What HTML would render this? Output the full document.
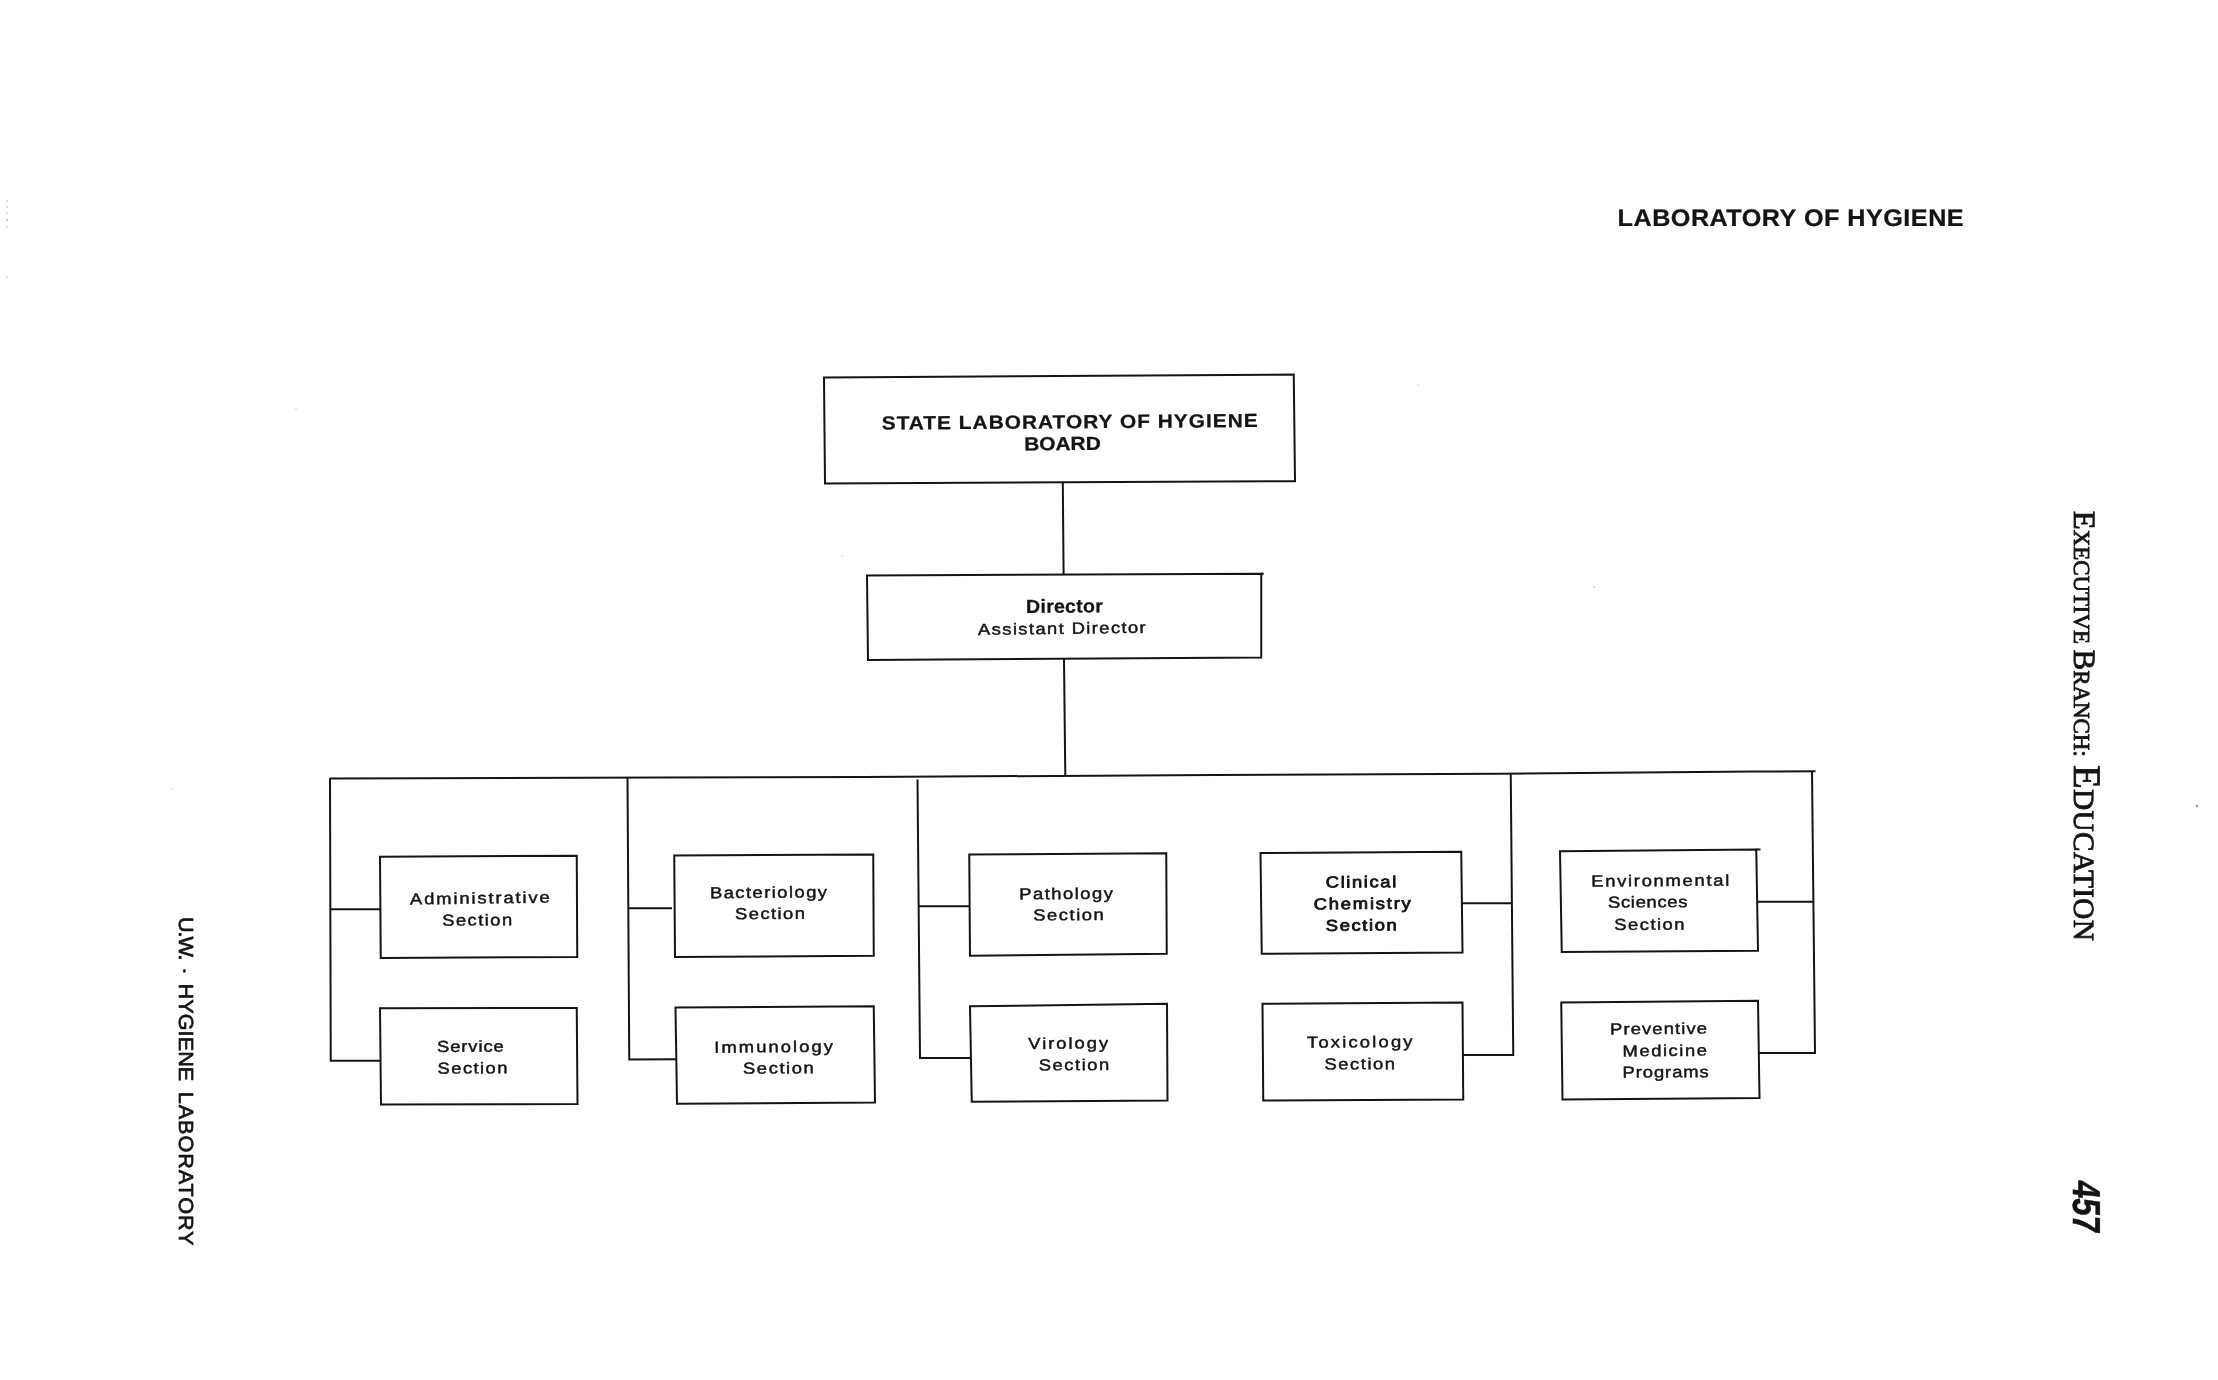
<!DOCTYPE html>
<html lang="en">
<head>
<meta charset="utf-8">
<title>State Laboratory of Hygiene – Organization Chart</title>
<style>
  html, body { margin: 0; padding: 0; background: #ffffff; }
  body { width: 2218px; height: 1380px; overflow: hidden; }
  svg { display: block; filter: grayscale(1); }
  .sans { font-family: "Liberation Sans", Arial, Helvetica, sans-serif; fill: #141414; }
  .serif { font-family: "Liberation Serif", "Times New Roman", Times, serif; fill: #141414; }
  .r { font-weight: 400; stroke: #141414; stroke-width: 0.45px; stroke-linejoin: round; }
  .h { stroke-width: 0.8px; }
  .b { font-weight: 700; stroke: #141414; stroke-width: 0.25px; stroke-linejoin: round; }
  .ln { fill: none; stroke: #141414; stroke-width: 2.0; stroke-linecap: butt; stroke-linejoin: miter; }
</style>
</head>
<body>
<svg width="2218" height="1380" viewBox="0 0 2218 1380" text-rendering="geometricPrecision">
<rect x="0" y="0" width="2218" height="1380" fill="#ffffff"/>

<g class="ln">
  <polygon points="824,377.5 1293.75,374.5 1295,481.25 825,483.5"/>
  <polygon points="867,575.5 1261.25,573.75 1261.25,657.5 868,660"/>
  <polygon points="380,856.75 576.75,855.75 577.25,957 380.75,958"/>
  <polygon points="380,1008.25 576.75,1008 577.5,1104 381,1104.5"/>
  <polygon points="674.25,855.5 873.25,854.5 873.75,955.75 675,957"/>
  <polygon points="675.5,1007.5 873.75,1006.25 875,1102.5 677,1103.75"/>
  <polygon points="969.25,854.5 1166.25,853.25 1166.75,953.75 970,955.75"/>
  <polygon points="970,1006.25 1167,1003.75 1167.5,1100.5 971.75,1101.75"/>
  <polygon points="1260.5,853 1461.25,851.75 1462.5,952.5 1261.75,953.75"/>
  <polygon points="1262.5,1003.75 1462.5,1002.5 1463.25,1099.5 1263.25,1100.5"/>
  <polygon points="1560,851.25 1756.25,849.5 1758,950.75 1561.75,952"/>
  <polygon points="1561.25,1002.5 1758,1000.75 1759.5,1098 1562.5,1099.5"/>
  <polyline points="1062.8,483 1063.6,574.5"/>
  <polyline points="1064,659 1065.3,775.5"/>
  <polyline points="329.5,778.5 660,777.5 864,777 1214,775 1500,773.75 1754,771.5 1815.5,771.25"/>
  <polyline points="330,778.5 330.75,1060.75 380.5,1060.75"/>
  <polyline points="330.3,909.25 380.3,909.25"/>
  <polyline points="627.5,777.5 629.25,1059.4 675.8,1059.25"/>
  <polyline points="628.4,908.25 672,908.25"/>
  <polyline points="917.5,779.5 920,1058.1 970.5,1058"/>
  <polyline points="918.6,906.25 969.6,906.25"/>
  <polyline points="1510.75,774 1513.25,1055.1 1463,1055"/>
  <polyline points="1462,903.25 1511.8,903.25"/>
  <polyline points="1812,771.25 1815,1053 1759,1053"/>
  <polyline points="1757,901.75 1813.4,901.75"/>
  <polyline points="1261,573.75 1263.75,573.7"/>
  <polyline points="1756,849.5 1760.5,849.4"/>
</g>
<g class="sans">
  <text class="b" x="-0.00" y="0" font-size="19" letter-spacing="0.899" transform="translate(881.70 429.60) rotate(-0.396) scale(1.1 1)">STATE LABORATORY OF HYGIENE</text>
  <text class="b" x="-0.00" y="0" font-size="19" letter-spacing="-0.009" transform="translate(1024.20 450.40) rotate(-0.374) scale(1.1 1)">BOARD</text>
  <text class="b" x="-0.00" y="0" font-size="19" letter-spacing="0.231" transform="translate(1026.10 612.90) rotate(-0.374) scale(1.03 1)">Director</text>
  <text class="r" x="-0.00" y="0" font-size="16" letter-spacing="1.199" transform="translate(978.10 635.00) rotate(-0.752) scale(1.15 1)">Assistant Director</text>
  <text class="r" x="-0.00" y="0" font-size="16" letter-spacing="1.609" transform="translate(410.10 904.50) rotate(-0.780) scale(1.15 1)">Administrative</text>
  <text class="r" x="-0.00" y="0" font-size="16" letter-spacing="1.252" transform="translate(442.20 925.80) rotate(-0.491) scale(1.15 1)">Section</text>
  <text class="r" x="-0.00" y="0" font-size="16" letter-spacing="0.781" transform="translate(437.00 1052.00) rotate(-0.343) scale(1.15 1)">Service</text>
  <text class="r" x="-0.00" y="0" font-size="16" letter-spacing="1.252" transform="translate(437.50 1073.75) rotate(-0.368) scale(1.15 1)">Section</text>
  <text class="r" x="-0.00" y="0" font-size="16" letter-spacing="1.245" transform="translate(710.00 898.30) rotate(-0.490) scale(1.15 1)">Bacteriology</text>
  <text class="r" x="-0.00" y="0" font-size="16" letter-spacing="1.252" transform="translate(735.00 919.25) rotate(-0.368) scale(1.15 1)">Section</text>
  <text class="r" x="-0.00" y="0" font-size="16" letter-spacing="1.790" transform="translate(714.25 1052.70) rotate(-0.482) scale(1.15 1)">Immunology</text>
  <text class="r" x="-0.00" y="0" font-size="16" letter-spacing="1.360" transform="translate(743.00 1073.75) rotate(-0.364) scale(1.15 1)">Section</text>
  <text class="r" x="-0.00" y="0" font-size="16" letter-spacing="1.294" transform="translate(1019.25 899.40) rotate(-0.489) scale(1.15 1)">Pathology</text>
  <text class="r" x="-0.00" y="0" font-size="16" letter-spacing="1.324" transform="translate(1033.25 920.50) rotate(-0.406) scale(1.15 1)">Section</text>
  <text class="r" x="-0.00" y="0" font-size="16" letter-spacing="1.721" transform="translate(1028.25 1049.00) rotate(-0.501) scale(1.15 1)">Virology</text>
  <text class="r" x="-0.00" y="0" font-size="16" letter-spacing="1.324" transform="translate(1038.75 1070.50) rotate(-0.406) scale(1.15 1)">Section</text>
  <text class="r h" x="-0.00" y="0" font-size="16" letter-spacing="1.391" transform="translate(1325.75 887.60) rotate(-0.406) scale(1.15 1)">Clinical</text>
  <text class="r h" x="-0.00" y="0" font-size="16" letter-spacing="1.541" transform="translate(1313.75 909.40) rotate(-0.413) scale(1.15 1)">Chemistry</text>
  <text class="r h" x="-0.00" y="0" font-size="16" letter-spacing="1.397" transform="translate(1325.75 930.90) rotate(-0.403) scale(1.15 1)">Section</text>
  <text class="r" x="-0.00" y="0" font-size="16" letter-spacing="1.893" transform="translate(1307.00 1047.80) rotate(-0.434) scale(1.15 1)">Toxicology</text>
  <text class="r" x="-0.00" y="0" font-size="16" letter-spacing="1.324" transform="translate(1324.50 1069.60) rotate(-0.406) scale(1.15 1)">Section</text>
  <text class="r" x="-0.00" y="0" font-size="16" letter-spacing="1.477" transform="translate(1591.25 886.60) rotate(-0.415) scale(1.15 1)">Environmental</text>
  <text class="r" x="-0.00" y="0" font-size="16" letter-spacing="0.600" transform="translate(1608.00 907.70) rotate(-0.432) scale(1.15 1)">Sciences</text>
  <text class="r" x="-0.00" y="0" font-size="16" letter-spacing="1.288" transform="translate(1614.25 930.10) rotate(-0.408) scale(1.15 1)">Section</text>
  <text class="r" x="-0.00" y="0" font-size="16" letter-spacing="0.972" transform="translate(1610.00 1034.50) rotate(-0.413) scale(1.15 1)">Preventive</text>
  <text class="r" x="-0.00" y="0" font-size="16" letter-spacing="1.349" transform="translate(1622.50 1056.40) rotate(-0.407) scale(1.15 1)">Medicine</text>
  <text class="r" x="-0.00" y="0" font-size="16" letter-spacing="0.806" transform="translate(1622.50 1077.70) rotate(-0.399) scale(1.15 1)">Programs</text>
  <text class="b" x="-0.00" y="0" font-size="24" letter-spacing="0.453" transform="translate(1617.60 226.10) rotate(-0.033) scale(1.05 1)">LABORATORY OF HYGIENE</text>
</g>
<g class="sans r" style="stroke-width:0.7px" font-size="20.4">
  <text x="-0.00" y="0" letter-spacing="-1.025" transform="translate(179.3 917) rotate(90) scale(1.060 1)">U.W.</text>
  <text x="-0.00" y="0" letter-spacing="0.000" transform="translate(179.3 969.1) rotate(90) scale(0.574 1)">-</text>
  <text x="-0.00" y="0" letter-spacing="0.074" transform="translate(179.3 983.5) rotate(90) scale(1.060 1)">HYGIENE</text>
  <text x="-0.00" y="0" letter-spacing="0.889" transform="translate(179.3 1091.7) rotate(90) scale(1.060 1)">LABORATORY</text>
</g>
<text class="sans" font-weight="700" stroke="#141414" stroke-width="0.6" font-size="38.95" x="-0.00" y="0" transform="translate(2073.1 1179.4) rotate(90) scale(0.8072 1) skewX(-7.0)">457</text>
<text class="serif" stroke="#141414" stroke-width="0.8" stroke-linejoin="round" letter-spacing="-0.090" xml:space="preserve" transform="translate(2073.7 510.80) rotate(90)"><tspan font-size="31">E</tspan><tspan font-size="23">XECUTIVE</tspan><tspan font-size="23"> </tspan><tspan font-size="31">B</tspan><tspan font-size="23">RANCH:</tspan></text>
<text class="serif" stroke="#141414" stroke-width="0.8" stroke-linejoin="round" letter-spacing="0.318" xml:space="preserve" transform="translate(2074.2 765.00) rotate(90)"><tspan font-size="38.8">E</tspan><tspan font-size="29.3">DUCATION</tspan></text>
<g fill="#555">
  <circle cx="7" cy="201" r="1.0" opacity="0.25"/>
  <circle cx="7" cy="207" r="1.0" opacity="0.25"/>
  <circle cx="7" cy="213" r="1.0" opacity="0.2"/>
  <circle cx="7" cy="220" r="1.2" opacity="0.3"/>
  <circle cx="7" cy="227" r="1.0" opacity="0.2"/>
  <circle cx="7" cy="277" r="1.0" opacity="0.2"/>
  <circle cx="2197" cy="806" r="1.2" opacity="0.6"/>
  <circle cx="1594" cy="587" r="0.9" opacity="0.35"/>
  <circle cx="842" cy="556" r="0.8" opacity="0.3"/>
  <circle cx="1418" cy="385" r="0.8" opacity="0.3"/>
  <circle cx="296" cy="409" r="0.8" opacity="0.25"/>
  <circle cx="172" cy="789" r="0.8" opacity="0.3"/>
</g>
</svg>
</body>
</html>
